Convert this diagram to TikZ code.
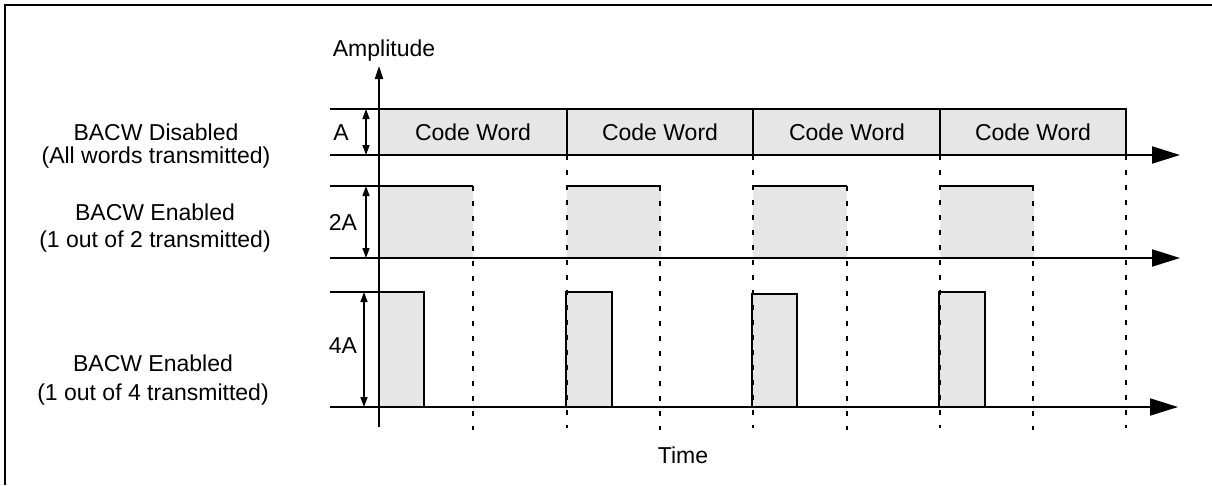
\documentclass[tikz,border=0pt]{standalone}
\usepackage{fontspec}
\setmainfont{Liberation Sans}
\usetikzlibrary{arrows.meta}
\definecolor{boxgray}{RGB}{230,230,230}
\begin{document}
\begin{tikzpicture}[x=1pt,y=-1pt,
  frameline/.style={line width=2.5pt},
  axisline/.style={line width=2pt},
  wave/.style={draw=black,line width=2pt,fill=boxgray},
  guide/.style={line width=2pt,dash pattern=on 5pt off 10pt},
  dimarrow/.style={line width=1.5pt,{Triangle[length=10pt,width=7pt]}-{Triangle[length=10pt,width=7pt]}},
  timearrow/.style={line width=2pt,-{Triangle[length=28pt,width=17pt]}},
  lbl/.style={font=\fontsize{23}{26}\selectfont,inner sep=0pt,anchor=base}]
\useasboundingbox (0,0) rectangle (1212,485);
% frame
\draw[frameline] (5,485) -- (5,5) -- (1212,5);
% row 1
\fill[boxgray] (379,109) rectangle (1126,155);
\foreach \x in {567,753,940}{\draw[axisline] (\x,109) -- (\x,155);}
\draw[axisline] (330,109) -- (1126,109) -- (1126,155);
% row 2
\foreach \x in {379,567,753,940}{
  \fill[boxgray] (\x,186) rectangle ({\x+94},258);
  \draw[axisline] (\x,186) -- ({\x+94},186);}
% row 3
\draw[wave] (379,292) rectangle (424,407);
\draw[wave] (566,292) rectangle (612,407);
\draw[wave] (752,294) rectangle (797,407);
\draw[wave] (939,292) rectangle (985,407);
% dashed guides
\foreach \x in {473,660,847,1033}{\draw[guide] (\x,186) -- (\x,430);}
\foreach \x in {567,753,940}{\draw[guide] (\x,155) -- (\x,428);}
\draw[guide] (1126,155) -- (1126,428);
% left reference lines
\draw[axisline] (330,186) -- (379,186);
\draw[axisline] (330,292) -- (379,292);
% time axes
\coordinate (b1s) at (330,155); \coordinate (b1e) at (1180,155);
\coordinate (b2s) at (330,258); \coordinate (b2e) at (1180,258);
\coordinate (b3s) at (330,407); \coordinate (b3e) at (1178,407);
\draw[timearrow] (b1s) -- (b1e);
\draw[timearrow] (b2s) -- (b2e);
\draw[timearrow] (b3s) -- (b3e);
% amplitude axis
\coordinate (ya) at (379,427); \coordinate (yb) at (379,66);
\draw[axisline,-{Triangle[length=13pt,width=8pt]}] (ya) -- (yb);
% dimension arrows
\coordinate (d1a) at (366,109); \coordinate (d1b) at (366,155);
\coordinate (d2a) at (366,186); \coordinate (d2b) at (366,258);
\coordinate (d3a) at (364,292); \coordinate (d3b) at (364,407);
\draw[dimarrow] (d1a) -- (d1b);
\draw[dimarrow] (d2a) -- (d2b);
\draw[dimarrow] (d3a) -- (d3b);
% texts
\node[lbl] (amp) at (384,56) {Amplitude};
\node[lbl] (time) at (683,463) {Time};
\node[lbl] (a1) at (341,140) {A};
\node[lbl] (a2) at (343,230) {2A};
\node[lbl] (a4) at (343,353) {4A};
\node[lbl] (cw1) at (473,140) {Code Word};
\node[lbl] (cw2) at (660,140) {Code Word};
\node[lbl] (cw3) at (847,140) {Code Word};
\node[lbl] (cw4) at (1033,140) {Code Word};
\node[lbl] (l1a) at (156,140) {BACW Disabled};
\node[lbl] (l1b) at (156,163) {(All words transmitted)};
\node[lbl] (l2a) at (155,220) {BACW Enabled};
\node[lbl] (l2b) at (155,247) {(1 out of 2 transmitted)};
\node[lbl] (l3a) at (153,371) {BACW Enabled};
\node[lbl] (l3b) at (153,400) {(1 out of 4 transmitted)};
\end{tikzpicture}
\end{document}
